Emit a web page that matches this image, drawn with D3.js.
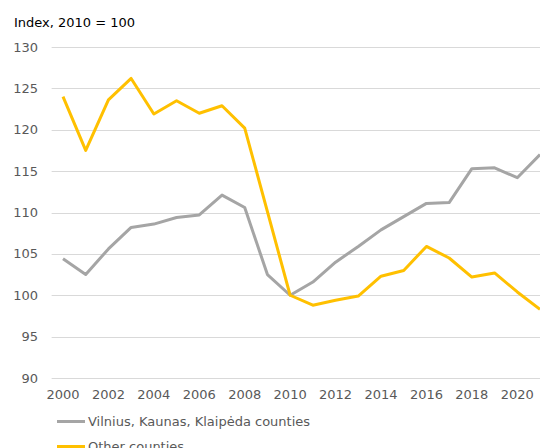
<!DOCTYPE html>
<html lang="en">
<head>
<meta charset="UTF-8" />
<title>Index chart</title>
<script src="https://cdn.jsdelivr.net/npm/d3@7"></script>
<style>
  body { margin: 0; background: #fff; }
  svg { display: block; font-family: "DejaVu Sans", Verdana, sans-serif; }
</style>
</head>
<body>
<script>
    // data
    const years = [2000, 2001, 2002, 2003, 2004, 2005, 2006, 2007, 2008, 2009, 2010,
        2011, 2012, 2013, 2014, 2015, 2016, 2017, 2018, 2019, 2020, 2021];
    const bigCounties = [104.4, 102.5, 105.6, 108.2, 108.6, 109.4, 109.7, 112.1, 110.6, 102.5, 100,
        101.6, 104.0, 105.9, 107.9, 109.5, 111.1, 111.2, 115.3, 115.4, 114.2, 117.0];
    const otherCounties = [124.0, 117.5, 123.6, 126.2, 121.9, 123.5, 122.0, 122.9, 120.2, 110.1, 100,
        98.8, 99.4, 99.9, 102.3, 103.0, 105.9, 104.5, 102.2, 102.7, 100.4, 98.3];
    const yTicks = [90, 95, 100, 105, 110, 115, 120, 125, 130];
    const xTicks = [2000, 2002, 2004, 2006, 2008, 2010, 2012, 2014, 2016, 2018, 2020];
    const seriesNames = ["Vilnius, Kaunas, Klaipėda counties", "Other counties"];
    const colors = ["#a5a5a5", "#ffc000"];

    let w = 540;
    let h = 448;
    let fs = 13;

    let svg = d3.select("body").append("svg")
        .attr("width", w)
        .attr("height", h);

    // x: one category per year, gridlines start half a step left of 2000
    let x = d3.scaleLinear().domain([2000, 2021]).range([63, 540]);
    let y = d3.scaleLinear().domain([90, 130]).range([378, 47]);
    let step = x(2001) - x(2000);

    // gridlines
    svg.append("g")
        .selectAll("line")
        .data(yTicks)
        .enter().append("line")
        .attr("x1", x(2000) - step / 2)
        .attr("x2", w)
        .attr("y1", d => Math.round(y(d)) + 0.5)
        .attr("y2", d => Math.round(y(d)) + 0.5)
        .attr("stroke", "#d9d9d9")
        .attr("stroke-width", 1);

    // y labels
    svg.append("g")
        .selectAll("text")
        .data(yTicks)
        .enter().append("text")
        .attr("x", 38)
        .attr("y", d => y(d))
        .attr("dy", "0.35em")
        .attr("text-anchor", "end")
        .attr("font-size", fs)
        .attr("fill", "#595959")
        .text(d => d);

    // x labels
    svg.append("g")
        .selectAll("text")
        .data(xTicks)
        .enter().append("text")
        .attr("x", d => x(d))
        .attr("y", 399)
        .attr("text-anchor", "middle")
        .attr("font-size", fs)
        .attr("fill", "#595959")
        .text(d => d);

    // title
    svg.append("text")
        .attr("x", 14)
        .attr("y", 27)
        .attr("font-size", fs)
        .attr("fill", "#000")
        .text("Index, 2010 = 100");

    let line = d3.line()
        .x((d, i) => x(years[i]))
        .y(d => y(d));

    [bigCounties, otherCounties].forEach(function (s, k) {
        svg.append("path")
            .datum(s)
            .attr("fill", "none")
            .attr("stroke", colors[k])
            .attr("stroke-width", 3)
            .attr("stroke-linejoin", "round")
            .attr("d", line);
    });

    // legend
    let leg = svg.append("g")
        .selectAll("g")
        .data(seriesNames)
        .enter().append("g")
        .attr("transform", (d, i) => "translate(0," + (421.5 + i * 25) + ")");

    leg.append("line")
        .attr("x1", 57)
        .attr("x2", 85)
        .attr("stroke", (d, i) => colors[i])
        .attr("stroke-width", 3);

    leg.append("text")
        .attr("x", 88)
        .attr("dy", "0.35em")
        .attr("font-size", fs)
        .attr("fill", "#595959")
        .text(d => d);
</script>
</body>
</html>
